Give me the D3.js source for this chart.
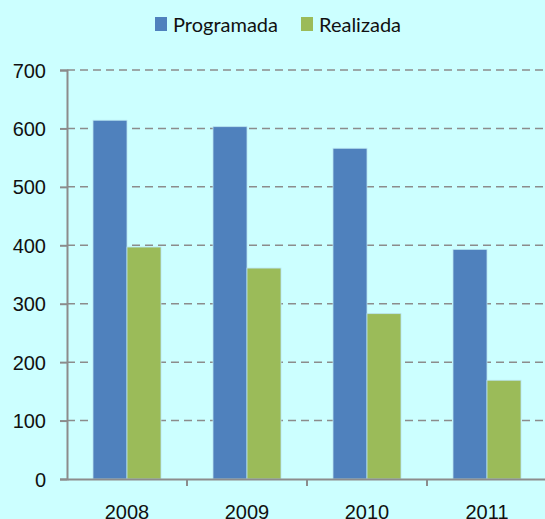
<!DOCTYPE html>
<html>
<head>
<meta charset="utf-8">
<script src="https://cdn.jsdelivr.net/npm/d3@7"></script>
<style>
  html, body { margin: 0; padding: 0; background: #ccffff; }
  svg { display: block; font-family: Lato, "Open Sans", sans-serif; }
</style>
</head>
<body>
<div id="chart"></div>
<script>
const years = ["2008", "2009", "2010", "2011"];
const seriesNames = ["Programada", "Realizada"];
const programada = [614, 603, 566, 393];
const realizada = [397, 361, 283, 169];
const yTicks = [0, 100, 200, 300, 400, 500, 600, 700];
const colors = ["#4f81bd", "#9bbb59"];

const width = 545, height = 519;
const margin = { top: 70, right: -2, bottom: 40, left: 67 };
const innerW = width - margin.left - margin.right;
const innerH = height - margin.top - margin.bottom;

const svg = d3.select("#chart").append("svg")
  .attr("width", width).attr("height", height);

svg.append("rect").attr("width", width).attr("height", height).attr("fill", "#ccffff");

const g = svg.append("g").attr("transform", `translate(${margin.left},${margin.top})`);

const x = d3.scaleBand().domain(years).range([0, innerW]);
const xs = d3.scaleBand().domain(seriesNames)
  .range([26, x.bandwidth() - 26]);
const y = d3.scaleLinear().domain([0, 700]).range([innerH, 0]);

// gridlines
g.append("g").selectAll("line")
  .data(yTicks.filter(d => d > 0))
  .join("line")
  .attr("x1", 0).attr("x2", innerW)
  .attr("y1", d => y(d)).attr("y2", d => y(d))
  .attr("stroke", "#8c8c8c").attr("stroke-width", 1.5)
  .attr("stroke-dasharray", "8,5");

// bars
const data = years.map((yr, i) => ({ yr, vals: [programada[i], realizada[i]] }));
g.append("g").selectAll("g")
  .data(data)
  .join("g")
  .attr("transform", d => `translate(${x(d.yr)},0)`)
  .selectAll("rect")
  .data(d => d.vals.map((v, j) => ({ name: seriesNames[j], v, j })))
  .join("rect")
  .attr("x", d => xs(d.name))
  .attr("width", xs.bandwidth())
  .attr("y", d => y(d.v))
  .attr("height", d => innerH - y(d.v))
  .attr("fill", d => colors[d.j])
  .attr("stroke", "#b9e4f0")
  .attr("stroke-width", 0.8);

// y axis
const yAxis = g.append("g")
  .call(d3.axisLeft(y).tickValues(yTicks).tickSize(7).tickPadding(14));
yAxis.select(".domain").attr("stroke", "#8c8c8c").attr("stroke-width", 2);
yAxis.selectAll(".tick line").attr("stroke", "#8c8c8c").attr("stroke-width", 2);
yAxis.selectAll(".tick text").attr("fill", "#111").style("font-size", "20px")
  .attr("dy", "0.35em");

// x axis
const xAxis = g.append("g")
  .attr("transform", `translate(0,${innerH})`)
  .call(d3.axisBottom(x).tickSize(0).tickPadding(26));
xAxis.select(".domain").attr("stroke", "#8c8c8c").attr("stroke-width", 2);
xAxis.selectAll(".tick text").attr("fill", "#111").style("font-size", "20px");
// category boundary ticks
g.append("g").selectAll("line")
  .data(years.slice(1))
  .join("line")
  .attr("x1", d => x(d)).attr("x2", d => x(d))
  .attr("y1", innerH).attr("y2", innerH + 7)
  .attr("stroke", "#8c8c8c").attr("stroke-width", 2);

// legend
const legend = svg.append("g").attr("transform", "translate(155,17)");
const items = [{ name: "Programada", x: 0 }, { name: "Realizada", x: 146 }];
items.forEach((it, i) => {
  const lg = legend.append("g").attr("transform", `translate(${it.x},0)`);
  lg.append("rect").attr("width", 12).attr("height", 14).attr("fill", colors[i]);
  lg.append("text").attr("x", 18).attr("y", 15)
    .style("font-size", "20px").attr("fill", "#111")
    .text(it.name);
});
</script>
</body>
</html>
